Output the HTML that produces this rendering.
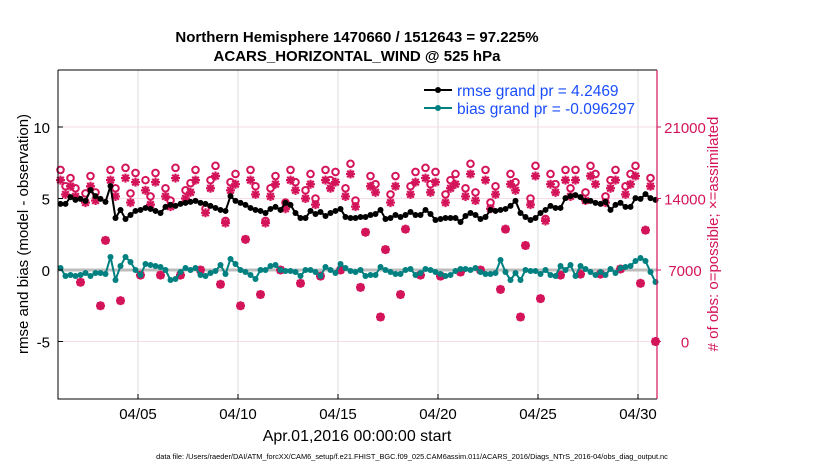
<!DOCTYPE html>
<html><head><meta charset="utf-8"><style>
body{margin:0;background:#fff}
svg{display:block;font-family:"Liberation Sans",Arial,sans-serif}
</style></head><body>
<svg id="chart" width="830" height="470" viewBox="0 0 830 470" xmlns="http://www.w3.org/2000/svg">
<rect width="830" height="470" fill="#fff"/>
<text x="357" y="42" text-anchor="middle" font-size="15" font-weight="bold">Northern Hemisphere 1470660 / 1512643 = 97.225%</text>
<text x="357" y="61" text-anchor="middle" font-size="15" font-weight="bold">ACARS_HORIZONTAL_WIND @ 525 hPa</text>
<g id="grid"></g>
<g id="marks"></g>
<g id="axes"></g>
<g>
<line x1="424" y1="90" x2="452" y2="90" stroke="#000" stroke-width="2"/><circle cx="438" cy="90" r="3" fill="#000"/>
<text x="457" y="96" font-size="15.5" fill="#1a4dff">rmse grand pr = 4.2469</text>
<line x1="424" y1="108" x2="452" y2="108" stroke="#008080" stroke-width="2"/><circle cx="438" cy="108" r="3" fill="#008080"/>
<text x="457" y="114" font-size="15.5" fill="#1a4dff">bias grand pr = -0.096297</text>
</g>
<text transform="translate(28,234) rotate(-90)" text-anchor="middle" font-size="15">rmse and bias (model - observation)</text>
<text transform="translate(718,234) rotate(-90)" text-anchor="middle" font-size="15" fill="#d4145a"># of obs: o=possible; ×=assimilated</text>
<text x="357" y="441" text-anchor="middle" font-size="16">Apr.01,2016 00:00:00 start</text>
<text x="412" y="459" text-anchor="middle" font-size="7.4">data file: /Users/raeder/DAI/ATM_forcXX/CAM6_setup/f.e21.FHIST_BGC.f09_025.CAM6assim.011/ACARS_2016/Diags_NTrS_2016-04/obs_diag_output.nc</text>
</svg>
<script>
const rmse=[4.62,4.62,5.1,4.9,4.97,4.83,5.59,5.17,4.97,4.76,
5.87,3.64,4.2,3.57,3.85,4.13,4.2,4.34,4.27,4.13,
3.99,4.41,4.55,4.48,4.62,4.69,4.76,4.83,4.69,4.62,
4.48,4.34,4.2,4.13,5.17,4.83,4.69,4.55,4.34,4.2,
4.13,3.99,4.27,4.41,4.2,4.69,4.55,3.99,3.64,3.64,
4.13,3.92,4.06,3.78,3.99,4.13,4.27,3.71,3.64,3.64,
3.71,3.71,3.85,3.92,4.2,3.57,3.64,3.85,3.71,3.85,
4.06,3.85,3.85,4.2,3.92,3.5,3.57,3.64,3.64,3.64,
3.36,3.78,3.99,3.85,3.57,3.71,4.2,4.13,4.2,4.27,
4.48,4.83,3.99,3.71,3.5,3.64,3.99,4.2,4.48,4.34,
4.34,5.03,5.17,5.24,5.1,4.83,4.83,4.69,4.62,4.76,
4.2,4.55,4.69,4.41,4.41,5.03,4.97,5.31,5.03,4.9];
const bias=[0.14,-0.42,-0.35,-0.42,-0.35,-0.21,-0.42,-0.21,-0.21,-0.28,
0.91,-0.7,0.28,0.91,0.56,0,-0.35,0.42,0.35,0.28,
0.21,0,-0.7,-0.63,-0.14,0.14,0,0.14,-0.35,-0.42,
-0.21,-0.07,0.35,-0.28,0.77,0.42,0,-0.14,-0.35,-0.63,
0,0,0.28,0.35,0,-0.07,-0.07,-0.14,-0.42,0,
0,-0.14,-0.42,0.21,0,-0.21,0.42,0.14,-0.07,-0.14,
0,-0.42,-0.35,-0.35,0.21,0,-0.14,-0.28,-0.28,0,
0.07,-0.35,-0.21,0.07,0,-0.14,-0.28,-0.42,-0.35,-0.07,
0.07,0.07,0,0.14,-0.14,-0.28,-0.28,-0.21,0.7,-0.14,
-0.7,-0.21,-0.7,0,-0.07,-0.07,-0.28,0,-0.35,-0.42,
0.28,0,0.35,-0.42,0.28,0.07,-0.14,-0.35,-0.14,-0.35,
0.07,-0.21,0.14,0.21,0.28,0.63,0.84,0.63,-0.14,-0.84];
const possible=[16800,15200,16000,15000, 5800,14500,16200,14600,
3500,9900,16800,15000, 4000,17000,14500,16500,
6500,15800,14200,16500, 6500,15000,13800,17000,
6500,14800,15500,16800, 7000,13000,15800,17200,
5600,11800,15600,16400, 3500,10000,16800,15200,
4600,11800,15000,16200, 7000,13600,16800,15600,
5700,14800,16400,14000, 6400,16800,15800,16600,
7000,15000,17400,13800, 5300,10700,16200,15400,
2400,9000,14400,16200, 4600,11000,15200,16600,
6500,17000,15400,16600, 6400,14400,15800,16400,
6800,15000,17400,14600, 7000,16800,13600,15200,
5100,11000,16400,15600, 2400,9400,14000,17200,
4200,12000,16400,15400, 6500,16800,15000,16800,
6600,14600,17200,16400, 6600,14200,15800,16800,
7100,15200,16400,17200, 5700,10900,16000,0];
const assimilated=[15800,14400,15200,14200, 5800,13600,15200,13800,
3500,9900,15800,14200, 4000,16000,13600,15600,
6500,14800,13400,15600, 6500,14200,13200,16000,
6500,14000,14600,15800, 7000,12600,15000,16200,
5600,11600,14800,15400, 3500,10000,15800,14400,
4600,11600,14200,15400, 7000,13000,15800,14800,
5700,14000,15400,13400, 6400,15800,15000,15600,
7000,14200,16400,13200, 5300,10700,15200,14600,
2400,9000,13600,15200, 4600,11000,14400,15600,
6500,16000,14600,15600, 6400,13600,15000,15400,
6800,14200,16400,13800, 7000,15800,13000,14400,
5100,11000,15400,14800, 2400,9400,13400,16200,
4200,11800,15400,14600, 6500,15800,14200,15800,
6600,13800,16200,15400, 6600,13600,15000,15800,
7100,14400,15400,16200, 5700,10900,15200,0];
const xTickDays=[4,9,14,19,24,29];
const xTickLabels=["04/05","04/10","04/15","04/20","04/25","04/30"];
const yTicks=[-5,0,5,10];
const y2Ticks=[0,7000,14000,21000];

const NS="http://www.w3.org/2000/svg";
const L=58,R=657,T=70,B=399;
const xs=d=>L+d*20;
const ys=v=>270-v*14.3;
const ys2=n=>341.5-n/7000*71.5;
const tOf=i=>0.125+i*0.25;
function mk(tag,attrs,parent){const e=document.createElementNS(NS,tag);for(const k in attrs)e.setAttribute(k,attrs[k]);parent.appendChild(e);return e;}
const grid=document.getElementById('grid'),marks=document.getElementById('marks'),axes=document.getElementById('axes');
const PINK="#d4145a";
xTickDays.forEach((d,i)=>{
 const g=mk('line',{x1:xs(d),x2:xs(d),y1:T,y2:B,stroke:'#dcdcdc','stroke-width':1},grid);
 
 
 const t=mk('line',{x1:xs(d),x2:xs(d),y1:B,y2:B-5,stroke:'#000','stroke-width':1},axes);
 
 
 const lb=mk('text',{x:xs(d),y:B+20,'text-anchor':'middle','font-size':15},axes);
 lb.textContent=xTickLabels[i];
 
 
});
y2Ticks.forEach(n=>{
 const g=mk('line',{x1:L,x2:R,y1:ys2(n),y2:ys2(n),stroke:'#f8dbe5','stroke-width':1},grid);
 
 
 const t=mk('line',{x1:R,x2:R+4,y1:ys2(n),y2:ys2(n),stroke:PINK,'stroke-width':1},axes);
 
 
 const lb=mk('text',{x:685,y:ys2(n)+6,'text-anchor':'middle','font-size':15,fill:PINK},axes);
 lb.textContent=n;
 
 
});
yTicks.forEach(v=>{
 const t=mk('line',{x1:L,x2:L+5,y1:ys(v),y2:ys(v),stroke:'#000','stroke-width':1},axes);
 
 
 const lb=mk('text',{x:50,y:ys(v)+6,'text-anchor':'end','font-size':15},axes);
 lb.textContent=v;
 
 
});
const zl=mk('line',{x1:L,x2:R,y1:ys(0),y2:ys(0),stroke:'#bdbdbd','stroke-width':3},grid);


possible.forEach((n,i)=>{
 const c=mk('circle',{cx:xs(tOf(i)),cy:ys2(n),r:3.3,fill:'none',stroke:PINK,'stroke-width':2},marks);
 
 
});
assimilated.forEach((n,i)=>{
 const x=xs(tOf(i)),y=ys2(n),s=4.5,d=3.3;
 const p=mk('path',{d:`M${x-s},${y}H${x+s}M${x},${y-s}V${y+s}M${x-d},${y-d}L${x+d},${y+d}M${x-d},${y+d}L${x+d},${y-d}`,stroke:PINK,'stroke-width':2.2,fill:'none'},marks);
 
 
});
function series(arr,color,name){
 const pts=arr.map((v,i)=>xs(tOf(i))+','+ys(v)).join(' ');
 const pl=mk('polyline',{points:pts,fill:'none',stroke:color,'stroke-width':2,'stroke-linejoin':'round'},marks);
 
 
 arr.forEach((v,i)=>{
  const c=mk('circle',{cx:xs(tOf(i)),cy:ys(v),r:3,fill:color},marks);
  
  
 });
}
series(bias,'#008080','bias');
series(rmse,'#000','rmse');
const fr=mk('path',{d:`M${L},${T}H${R}M${L},${T}V${B}H${R}`,fill:'none',stroke:'#000','stroke-width':1},axes);


const ra=mk('line',{x1:R,x2:R,y1:T,y2:B,stroke:PINK,'stroke-width':1.2},axes);


</script>
</body></html>
